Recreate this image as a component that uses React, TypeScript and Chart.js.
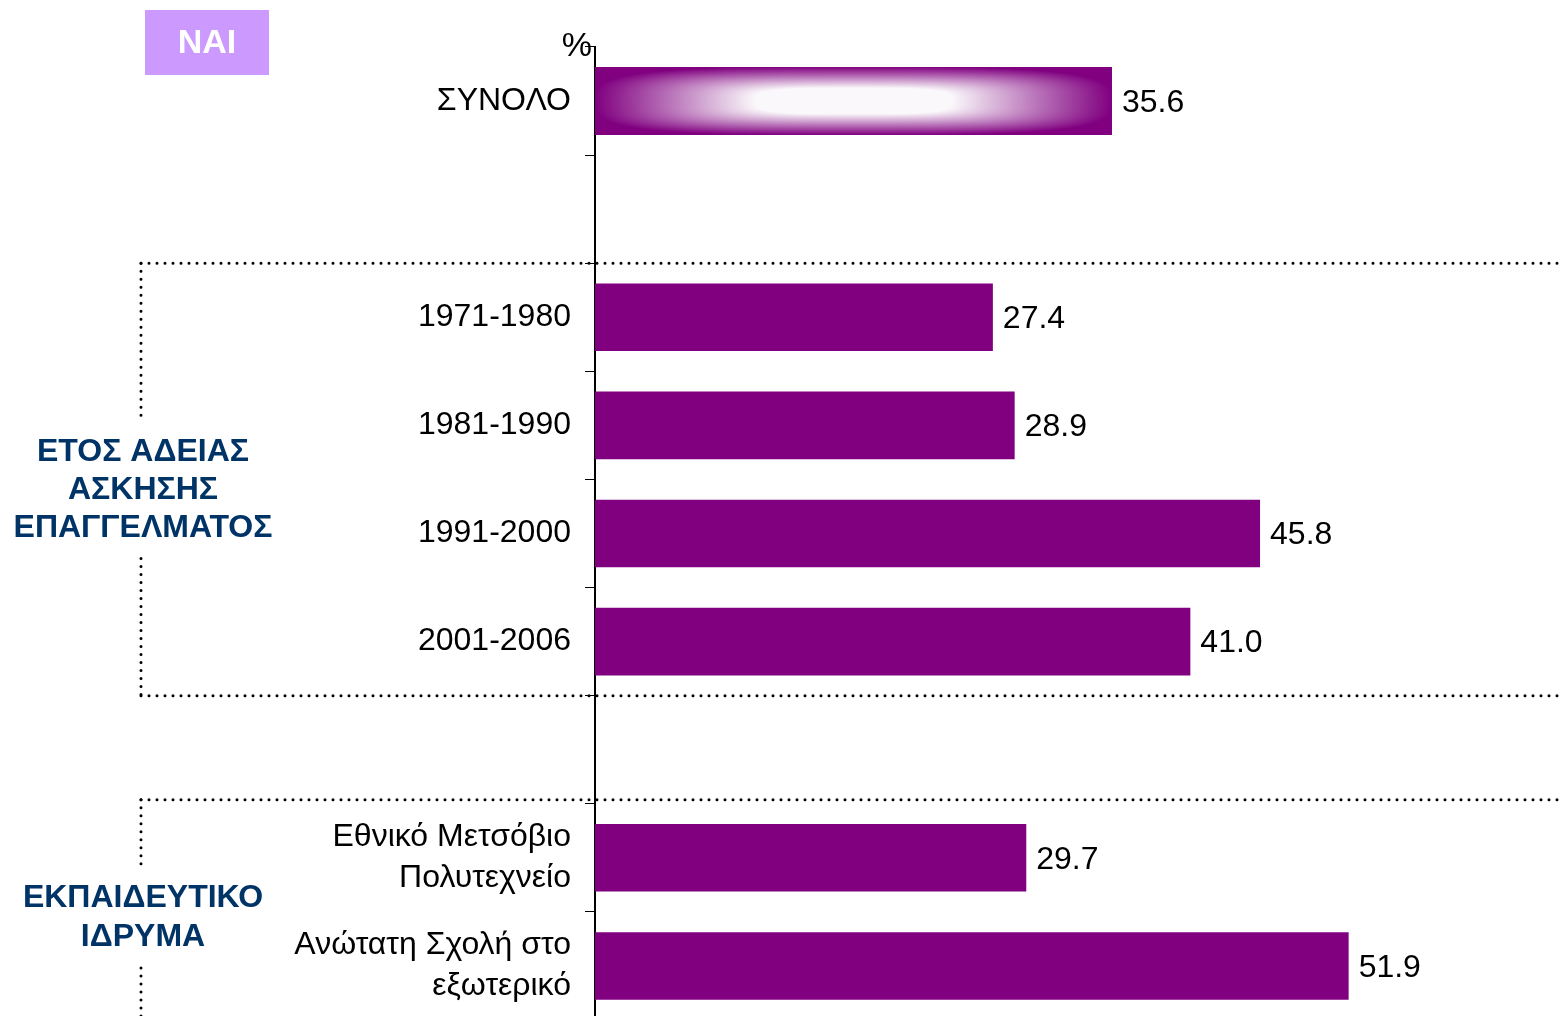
import { useEffect, useRef } from "react";
import { Chart, registerables } from "chart.js";

Chart.register(...registerables);

const categories: (string | string[])[] = [
  "ΣΥΝΟΛΟ",
  "",
  "1971-1980",
  "1981-1990",
  "1991-2000",
  "2001-2006",
  "",
  ["Εθνικό Μετσόβιο", "Πολυτεχνείο"],
  ["Ανώτατη Σχολή στο", "εξωτερικό"],
];
const values: (number | null)[] = [35.6, null, 27.4, 28.9, 45.8, 41.0, null, 29.7, 51.9];
const groupYearLabel = ["ΕΤΟΣ ΑΔΕΙΑΣ", "ΑΣΚΗΣΗΣ", "ΕΠΑΓΓΕΛΜΑΤΟΣ"];
const groupSchoolLabel = ["ΕΚΠΑΙΔΕΥΤΙΚΟ", "ΙΔΡΥΜΑ"];
const badgeText = "NAI";
const unitLabel = "%";
const xMin = 0;
const xMax = 66.8;

const FONT = "'Liberation Sans', Arial, sans-serif";
const PURPLE = "#800080";
const NAVY = "#003366";

const overlayPlugin = {
  id: "overlay",
  afterDatasetsDraw(chart: any) {
    const ctx = chart.ctx as CanvasRenderingContext2D;
    const meta = chart.getDatasetMeta(0);
    // shaped gradient on the total bar
    const el: any = meta.data[0];
    if (el) {
      const left = Math.round(Math.min(el.base, el.x));
      const right = Math.round(Math.max(el.base, el.x));
      const top = Math.round(el.y - el.height / 2);
      const bottom = Math.round(el.y + el.height / 2);
      const w = right - left;
      const h = bottom - top;
      if (w > 0 && h > 0) {
        const img = ctx.createImageData(w, h);
        const hw = w / 2;
        const hh = h / 2;
        const p = 3.5;
        for (let j = 0; j < h; j++) {
          for (let i = 0; i < w; i++) {
            const dx = Math.abs(i + 0.5 - hw) / hw;
            const dy = Math.abs(j + 0.5 - hh) / hh;
            let t = Math.pow(Math.pow(dx, p) + Math.pow(dy, p), 1 / p);
            if (t > 1) t = 1;
            let m = (1 - t) / 0.62;
            if (m > 1) m = 1;
            const k = (j * w + i) * 4;
            img.data[k] = Math.round(128 + 122 * m);
            img.data[k + 1] = Math.round(0 + 248 * m);
            img.data[k + 2] = Math.round(128 + 122 * m);
            img.data[k + 3] = 255;
          }
        }
        ctx.putImageData(img, left, top);
      }
    }
    // value labels
    ctx.save();
    ctx.font = `32px ${FONT}`;
    ctx.fillStyle = "#000";
    ctx.textAlign = "left";
    ctx.textBaseline = "middle";
    meta.data.forEach((b: any, i: number) => {
      const v = values[i];
      if (v == null) return;
      ctx.fillText(v.toFixed(1), b.x + 10, b.y + 2);
    });
    ctx.restore();
  },
  afterDraw(chart: any) {
    const ctx = chart.ctx as CanvasRenderingContext2D;
    const ys = chart.scales.y;
    const n = categories.length;
    const slot = (ys.bottom - ys.top) / n;
    const boundary = (i: number) => ys.top + i * slot;
    const W = chart.width;
    const H = chart.height;
    const vx = 141;

    // % unit
    ctx.save();
    ctx.font = `34px ${FONT}`;
    ctx.fillStyle = "#000";
    ctx.textAlign = "right";
    ctx.textBaseline = "middle";
    ctx.fillText(unitLabel, ys.right - 3, ys.top);
    ctx.restore();

    // badge
    ctx.save();
    ctx.fillStyle = "#CC99FF";
    ctx.fillRect(145, 10, 124, 65);
    ctx.fillStyle = "#fff";
    ctx.font = `bold 34px ${FONT}`;
    ctx.textAlign = "center";
    ctx.textBaseline = "middle";
    ctx.fillText(badgeText, 207, 44);
    ctx.restore();

    const dotted = (x1: number, y1: number, x2: number, y2: number) => {
      ctx.save();
      ctx.strokeStyle = "#000";
      ctx.lineWidth = 3;
      ctx.lineCap = "round";
      ctx.setLineDash([0, 8]);
      ctx.beginPath();
      ctx.moveTo(x1, y1);
      ctx.lineTo(x2, y2);
      ctx.stroke();
      ctx.restore();
    };

    const groupText = (lines: string[], cy: number, lh: number) => {
      ctx.save();
      ctx.font = `bold 32px ${FONT}`;
      ctx.fillStyle = NAVY;
      ctx.textAlign = "center";
      ctx.textBaseline = "middle";
      const start = cy - ((lines.length - 1) * lh) / 2;
      lines.forEach((l, i) => ctx.fillText(l, vx + 2, start + i * lh + 1));
      ctx.restore();
      return [start - lh / 2, start + (lines.length - 1) * lh + lh / 2];
    };

    // group 1: year of license
    const g1Top = boundary(2);
    const g1Bottom = boundary(6);
    const [t1a, t1b] = groupText(groupYearLabel, (g1Top + g1Bottom) / 2 + 10, 38);
    dotted(vx, g1Top, W, g1Top);
    dotted(vx, g1Bottom, W, g1Bottom);
    dotted(vx, g1Top, vx, t1a - 15);
    dotted(vx, t1b + 12, vx, g1Bottom);

    // group 2: institution
    const g2Top = boundary(7) - 4;
    const g2Bottom = H + 10;
    const [t2a, t2b] = groupText(groupSchoolLabel, (boundary(7) + boundary(9)) / 2 + 5, 39);
    dotted(vx, g2Top, W, g2Top);
    dotted(vx, g2Top, vx, t2a - 12);
    dotted(vx, t2b + 12, vx, g2Bottom);
  },
};

export default function App() {
  const ref = useRef<HTMLCanvasElement | null>(null);
  useEffect(() => {
    if (!ref.current) return;
    const chart = new Chart(ref.current, {
      type: "bar",
      data: {
        labels: categories,
        datasets: [
          {
            data: values,
            backgroundColor: PURPLE,
            borderWidth: 0,
            barPercentage: 0.625,
            categoryPercentage: 1,
          },
        ],
      },
      options: {
        indexAxis: "y",
        animation: false,
        responsive: false,
        maintainAspectRatio: false,
        devicePixelRatio: 1,
        layout: { padding: { top: 47, left: 0, right: 0, bottom: 0 } },
        plugins: { legend: { display: false }, tooltip: { enabled: false } },
        scales: {
          x: { display: false, min: xMin, max: xMax },
          y: {
            type: "category",
            offset: true,
            grid: {
              offset: true,
              drawOnChartArea: false,
              drawTicks: true,
              tickLength: 10,
              color: "#000",
              lineWidth: 1,
            },
            border: { display: true, color: "#000", width: 2 },
            ticks: {
              color: "#000",
              font: { family: FONT, size: 32, lineHeight: 1.28 },
              padding: 14,
              autoSkip: false,
            },
            afterFit: (s: any) => {
              s.width = 595;
              s.paddingTop = 0;
              s.paddingBottom = 0;
            },
          },
        },
      } as any,
      plugins: [overlayPlugin],
    });
    return () => chart.destroy();
  }, []);
  return (
    <div style={{ position: "fixed", left: 0, top: 0, width: 1565, height: 1020, background: "#fff" }}>
      <canvas ref={ref} width={1565} height={1020} style={{ display: "block", width: 1565, height: 1020 }} />
    </div>
  );
}
